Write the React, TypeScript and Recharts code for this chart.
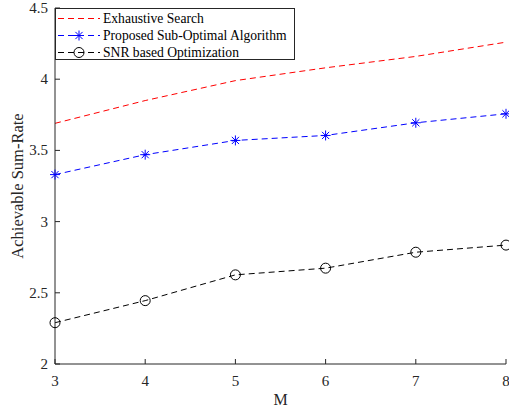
import React from 'react';
import { LineChart, Line, XAxis, YAxis } from 'recharts';

const mValues = [3, 4, 5, 6, 7, 8];
const exhaustive = [3.69, 3.85, 3.99, 4.08, 4.16, 4.26];
const proposed = [3.33, 3.47, 3.57, 3.605, 3.694, 3.757];
const snrBased = [2.29, 2.445, 2.626, 2.673, 2.785, 2.835];
const yTicks = [2, 2.5, 3, 3.5, 4, 4.5];

const data = mValues.map((m, i) => ({
  m,
  exhaustive: exhaustive[i],
  proposed: proposed[i],
  snr: snrBased[i],
}));

const FONT = '"Liberation Serif", "Times New Roman", serif';
const AXIS = '#262626';
const PLOT = { left: 55, right: 506, top: 8, bottom: 364 };
const TICK_LEN = 5;

const BottomTick = (props: any) => {
  const { x, payload } = props;
  return (
    <g>
      <line x1={x} x2={x} y1={PLOT.bottom} y2={PLOT.bottom - TICK_LEN} stroke={AXIS} />
      <text x={x} y={PLOT.bottom + 22} textAnchor="middle" fill={AXIS} style={{ fontSize: 15, fontFamily: FONT }}>
        {payload.value}
      </text>
    </g>
  );
};

const TopTick = (props: any) => {
  const { x } = props;
  return <line x1={x} x2={x} y1={PLOT.top} y2={PLOT.top + TICK_LEN} stroke={AXIS} />;
};

const LeftTick = (props: any) => {
  const { y, payload } = props;
  return (
    <g>
      <line x1={PLOT.left} x2={PLOT.left + TICK_LEN} y1={y} y2={y} stroke={AXIS} />
      <text x={PLOT.left - 7} y={y + 5} textAnchor="end" fill={AXIS} style={{ fontSize: 15, fontFamily: FONT }}>
        {payload.value}
      </text>
    </g>
  );
};

const RightTick = (props: any) => {
  const { y } = props;
  return <line x1={PLOT.right} x2={PLOT.right - TICK_LEN} y1={y} y2={y} stroke={AXIS} />;
};

const YLabel = () => (
  <text
    x={0}
    y={0}
    transform={`translate(23, ${(PLOT.top + PLOT.bottom) / 2}) rotate(-90)`}
    textAnchor="middle"
    fill={AXIS}
    style={{ fontSize: 16.5, fontFamily: FONT }}
  >
    Achievable Sum-Rate
  </text>
);

const XLabel = () => (
  <text
    x={(PLOT.left + PLOT.right) / 2}
    y={405}
    textAnchor="middle"
    fill={AXIS}
    style={{ fontSize: 16, fontFamily: FONT }}
  >
    M
  </text>
);

const StarDot = (props: any) => {
  const { cx, cy, stroke } = props;
  if (cx == null || cy == null) return null;
  const r = 5;
  const d = r * 0.72;
  return (
    <g stroke={stroke} strokeWidth={1}>
      <line x1={cx - r} x2={cx + r} y1={cy} y2={cy} />
      <line x1={cx} x2={cx} y1={cy - r} y2={cy + r} />
      <line x1={cx - d} x2={cx + d} y1={cy - d} y2={cy + d} />
      <line x1={cx - d} x2={cx + d} y1={cy + d} y2={cy - d} />
    </g>
  );
};

const CircleDot = (props: any) => {
  const { cx, cy, stroke } = props;
  if (cx == null || cy == null) return null;
  return <circle cx={cx} cy={cy} r={5} fill="none" stroke={stroke} strokeWidth={1} />;
};

const legendItems = [
  { label: 'Exhaustive Search', color: '#ff0000', marker: 'none' },
  { label: 'Proposed Sub-Optimal Algorithm', color: '#0000ff', marker: 'star' },
  { label: 'SNR based Optimization', color: '#000000', marker: 'circle' },
];

const LegendBox = () => (
  <div
    style={{
      position: 'absolute',
      left: PLOT.left,
      top: PLOT.top,
      width: 240,
      height: 52,
      border: `1px solid ${AXIS}`,
      background: '#fff',
      boxSizing: 'border-box',
      fontFamily: FONT,
      fontSize: 13.6,
      color: '#000',
      paddingTop: 1,
    }}
  >
    {legendItems.map((it) => (
      <div key={it.label} style={{ display: 'flex', alignItems: 'center', height: 17 }}>
        <svg width={47} height={17} style={{ flex: 'none' }}>
          <line x1={2} x2={44} y1={8.5} y2={8.5} stroke={it.color} strokeDasharray="6 4" />
          {it.marker === 'star' && <StarDot cx={23} cy={8.5} stroke={it.color} />}
          {it.marker === 'circle' && <CircleDot cx={23} cy={8.5} stroke={it.color} />}
        </svg>
        <span style={{ whiteSpace: 'nowrap' }}>{it.label}</span>
      </div>
    ))}
  </div>
);

export default function App() {
  return (
    <div style={{ position: 'absolute', left: 0, top: 0, width: 509, height: 412, background: '#fff' }}>
      <LineChart
        width={509}
        height={412}
        data={data}
        margin={{ top: PLOT.top, right: 509 - PLOT.right, left: 0, bottom: 0 }}
      >
        <XAxis
          dataKey="m"
          type="number"
          domain={[3, 8]}
          ticks={mValues}
          xAxisId="bottom"
          height={412 - PLOT.bottom}
          tickLine={false}
          axisLine={{ stroke: AXIS }}
          tick={<BottomTick />}
          interval={0}
        />
        <XAxis
          dataKey="m"
          type="number"
          domain={[3, 8]}
          ticks={mValues}
          xAxisId="top"
          orientation="top"
          height={0}
          tickLine={false}
          axisLine={{ stroke: AXIS }}
          tick={<TopTick />}
          interval={0}
        />
        <YAxis
          yAxisId="left"
          type="number"
          domain={[2, 4.5]}
          ticks={yTicks}
          width={PLOT.left}
          tickLine={false}
          axisLine={{ stroke: AXIS }}
          tick={<LeftTick />}
          interval={0}
        />
        <YAxis
          yAxisId="right"
          orientation="right"
          type="number"
          domain={[2, 4.5]}
          ticks={yTicks}
          width={0}
          tickLine={false}
          axisLine={{ stroke: AXIS }}
          tick={<RightTick />}
          interval={0}
        />
        <Line
          xAxisId="bottom"
          yAxisId="left"
          type="linear"
          dataKey="exhaustive"
          stroke="#ff0000"
          strokeWidth={1}
          strokeDasharray="6 4"
          dot={false}
          activeDot={false}
          isAnimationActive={false}
        />
        <Line
          xAxisId="bottom"
          yAxisId="left"
          type="linear"
          dataKey="proposed"
          stroke="#0000ff"
          strokeWidth={1}
          strokeDasharray="6 4"
          dot={<StarDot />}
          activeDot={false}
          isAnimationActive={false}
        />
        <Line
          xAxisId="bottom"
          yAxisId="left"
          type="linear"
          dataKey="snr"
          stroke="#000000"
          strokeWidth={1}
          strokeDasharray="6 4"
          dot={<CircleDot />}
          activeDot={false}
          isAnimationActive={false}
        />
        <YLabel />
        <XLabel />
      </LineChart>
      <LegendBox />
    </div>
  );
}
